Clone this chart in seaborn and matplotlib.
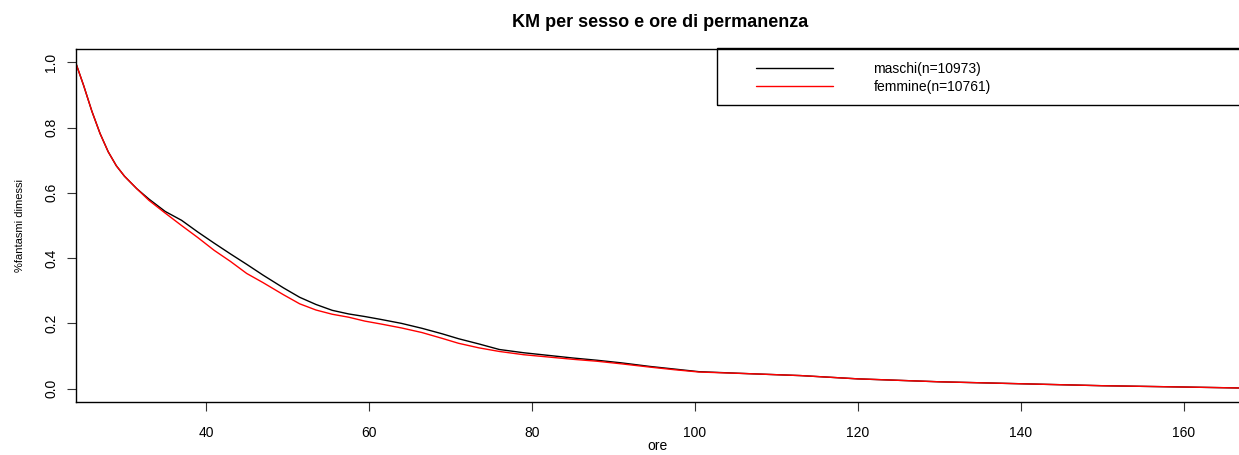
import matplotlib
matplotlib.use("Agg")
import matplotlib.pyplot as plt
from matplotlib.patches import Rectangle
import pandas as pd
import seaborn as sns

# Kaplan-Meier survival estimates by sex (hours of stay)
hours = [24, 25, 26, 27, 28, 29, 30, 31.5, 33, 35, 37, 39, 41, 43, 45, 47, 49.5,
         51.5, 53.5, 55.5, 57.5, 59.5, 61.5, 64, 66.5, 69, 71, 73.5, 76, 79, 82, 85,
         88, 91, 94.5, 97.5, 100.5, 106.5, 113, 120, 130, 140, 150, 160, 167]
surv_maschi = [1.0, 0.928, 0.85, 0.782, 0.726, 0.683, 0.651, 0.613, 0.581, 0.543,
               0.516, 0.48, 0.446, 0.413, 0.381, 0.348, 0.309, 0.28, 0.258, 0.24,
               0.229, 0.221, 0.212, 0.2, 0.185, 0.168, 0.153, 0.137, 0.12, 0.11,
               0.102, 0.094, 0.087, 0.079, 0.068, 0.06, 0.052, 0.046, 0.04, 0.03,
               0.021, 0.015, 0.009, 0.005, 0.002]
surv_femmine = [1.0, 0.928, 0.85, 0.782, 0.726, 0.683, 0.651, 0.613, 0.577, 0.538,
                0.5, 0.463, 0.424, 0.39, 0.353, 0.325, 0.288, 0.26, 0.241, 0.228,
                0.219, 0.207, 0.198, 0.186, 0.172, 0.154, 0.139, 0.125, 0.114, 0.104,
                0.097, 0.09, 0.084, 0.076, 0.066, 0.058, 0.051, 0.046, 0.04, 0.03,
                0.021, 0.015, 0.009, 0.005, 0.002]
labels = ["maschi(n=10973)", "femmine(n=10761)"]
colors = ["black", "red"]

sns.set_style("white")
plt.rcParams["font.family"] = ["Liberation Sans", "DejaVu Sans"]
plt.rcParams.update({"text.color": "black", "axes.labelcolor": "black",
                     "xtick.color": "black", "ytick.color": "black"})

W, H = 1239, 455
fig = plt.figure(figsize=(W / 100, H / 100), dpi=100)
ax_l, ax_r, ax_t, ax_b = 75.6, 1244.0, 49.3, 401.7
ax = fig.add_axes([ax_l / W, 1 - ax_b / H, (ax_r - ax_l) / W, (ax_b - ax_t) / H])

df = pd.DataFrame({
    "ore": hours * 2,
    "surv": surv_maschi + surv_femmine,
    "gruppo": [labels[0]] * len(hours) + [labels[1]] * len(hours),
})
sns.lineplot(data=df, x="ore", y="surv", hue="gruppo", palette=dict(zip(labels, colors)),
             linewidth=1.0, ax=ax, legend=False, sort=False)

ax.set_xlim(24, 167.4)
ax.set_ylim(-0.04, 1.04)
ax.set_xticks([40, 60, 80, 100, 120, 140, 160])
ax.set_yticks([0.0, 0.2, 0.4, 0.6, 0.8, 1.0])
ax.set_yticklabels(["0.0", "0.2", "0.4", "0.6", "0.8", "1.0"], rotation=90, va="center")
ax.tick_params(axis="x", direction="out", length=6.5, width=0.8, color="#333333",
               labelsize=10, pad=11, bottom=True)
ax.tick_params(axis="y", direction="out", length=6.5, width=0.8, color="#333333",
               labelsize=10, pad=6, left=True)
for s in ax.spines.values():
    s.set_color("black")
    s.set_linewidth(1.0)

aw, ah = ax_r - ax_l, ax_b - ax_t
ax.set_xlabel("ore", fontsize=10)
ax.xaxis.set_label_coords((657 - ax_l) / aw, (ax_b - 439) / ah)
ax.set_ylabel("%fantasmi dimessi", fontsize=8, labelpad=14)
ax.set_title("KM per sesso e ore di permanenza", fontsize=13, fontweight="bold", pad=16)

# legend frame (extends to the right edge of the plot region)
ax.add_patch(Rectangle(((716.5 - ax_l) / aw, (ax_b - 104.6) / ah),
                       (ax_r + 10 - 716.5) / aw, (104.6 - 48) / ah,
                       transform=ax.transAxes, fill=False, edgecolor="black",
                       linewidth=1.0, clip_on=False, zorder=5))
handles = [plt.Line2D([], [], color=c, linewidth=1.0) for c in colors]
ax.legend(handles, labels, loc="upper left",
          bbox_to_anchor=((749 - ax_l) / aw, (ax_b - 55) / ah),
          frameon=False, fontsize=10, handlelength=5.55, handletextpad=2.9,
          borderpad=0.5, labelspacing=0.31, borderaxespad=0)

fig.savefig("out.png", dpi=100)
